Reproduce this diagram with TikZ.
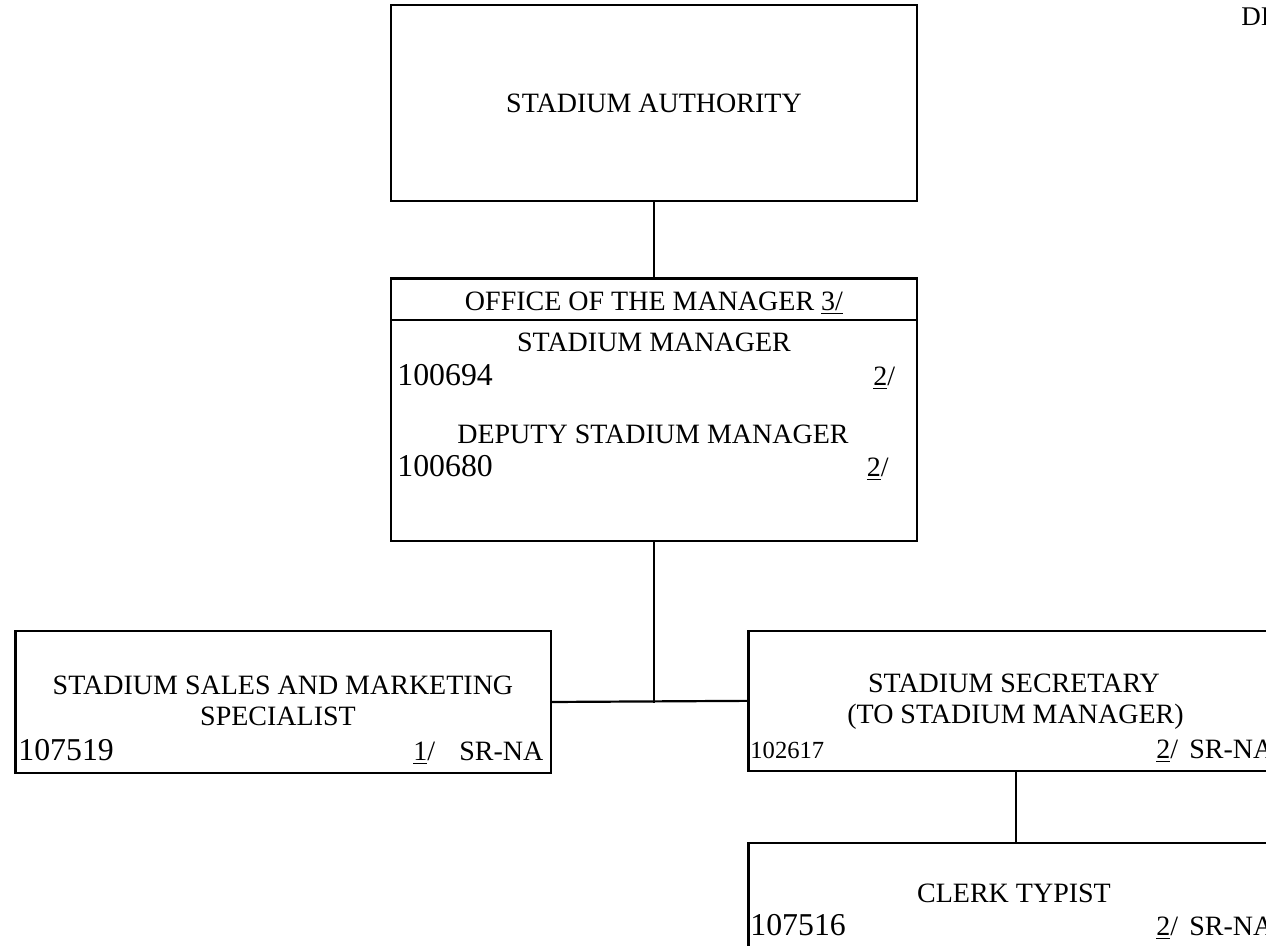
\documentclass[tikz,border=0pt]{standalone}
\usepackage{fontspec}
\setmainfont{Liberation Serif}
\begin{document}
\begin{tikzpicture}[x=0.5pt,y=-0.5pt,
  box/.style={draw, rectangle, line width=1.1pt, inner sep=0pt, outer sep=0pt},
  lab/.style={inner sep=0pt, font=\fontsize{14}{16}\selectfont},
  num/.style={inner sep=0pt, font=\fontsize{15.9}{18}\selectfont},
  smallnum/.style={inner sep=0pt, font=\fontsize{12.3}{14}\selectfont},
  conn/.style={line width=1.1pt}]
\useasboundingbox (0,0) rectangle (1266,946);
\clip (0,0) rectangle (1266,946);

% boxes
\node[box, minimum width=263pt, minimum height=98pt] (auth) at (654,103) {};
\node[box, minimum width=263pt, minimum height=131.25pt] (office) at (654,409.75) {};
\node[box, minimum width=267.75pt, minimum height=71pt] (sales) at (283.25,702) {};
\node[box, minimum width=267.3pt, minimum height=70.15pt] (sec) at (1015.7,700.85) {};
\node[box, minimum width=267.3pt, minimum height=78.6pt] (clerk) at (1015.7,921.4) {};

% header divider of office box
\draw[conn] ([yshift=-20.75pt]office.north west) -- ([yshift=-20.75pt]office.north east);

% texts
\node[inner sep=0pt, font=\fontsize{13.5}{15}\selectfont, anchor=base west] (corner) at (1241,26) {DI};

\node[lab, anchor=base] (tauth) at (654,113) {STADIUM AUTHORITY};

\node[lab, anchor=base] (thead) at (654,310.5) {OFFICE OF THE MANAGER \underline{3/}};
\node[lab, anchor=base] (tsm) at (654,352) {STADIUM MANAGER};
\node[num, anchor=base west] (nsm) at (397,385.5) {100694};
\node[lab, anchor=base west] (fsm) at (873,385.5) {\underline{2}/};
\node[lab, anchor=base] (tdsm) at (653,443.5) {DEPUTY STADIUM MANAGER};
\node[num, anchor=base west] (ndsm) at (397,477) {100680};
\node[lab, anchor=base west] (fdsm) at (866.5,477) {\underline{2}/};

\node[lab, anchor=base] (tsales1) at (283,694.5) {STADIUM SALES AND MARKETING};
\node[lab, anchor=base] (tsales2) at (278,726) {SPECIALIST};
\node[num, anchor=base west] (nsales) at (18,761) {107519};
\node[lab, anchor=base west] (fsales) at (413,761) {\underline{1}/};
\node[lab, anchor=base west] (gsales) at (459,761) {SR-NA};

\node[lab, anchor=base] (tsec1) at (1014,692.5) {STADIUM SECRETARY};
\node[lab, anchor=base] (tsec2) at (1015.5,724) {(TO STADIUM MANAGER)};
\node[smallnum, anchor=base west] (nsec) at (750,759) {102617};
\node[lab, anchor=base west] (fsec) at (1156,759) {\underline{2}/};
\node[lab, anchor=base west] (gsec) at (1189,759) {SR-NA};

\node[lab, anchor=base] (tclerk) at (1014,902.8) {CLERK TYPIST};
\node[num, anchor=base west] (nclerk) at (750,936) {107516};
\node[lab, anchor=base west] (fclerk) at (1156,936) {\underline{2}/};
\node[lab, anchor=base west] (gclerk) at (1189,936) {SR-NA};

% connectors
\coordinate (j) at (654,703);
\draw[conn] (auth.south) -- (office.north);
\draw[conn] (office.south) -- (j);
\draw[conn] (sales.east) -- (sec.west);
\draw[conn] (sec.south) -- (clerk.north);
\end{tikzpicture}
\end{document}
